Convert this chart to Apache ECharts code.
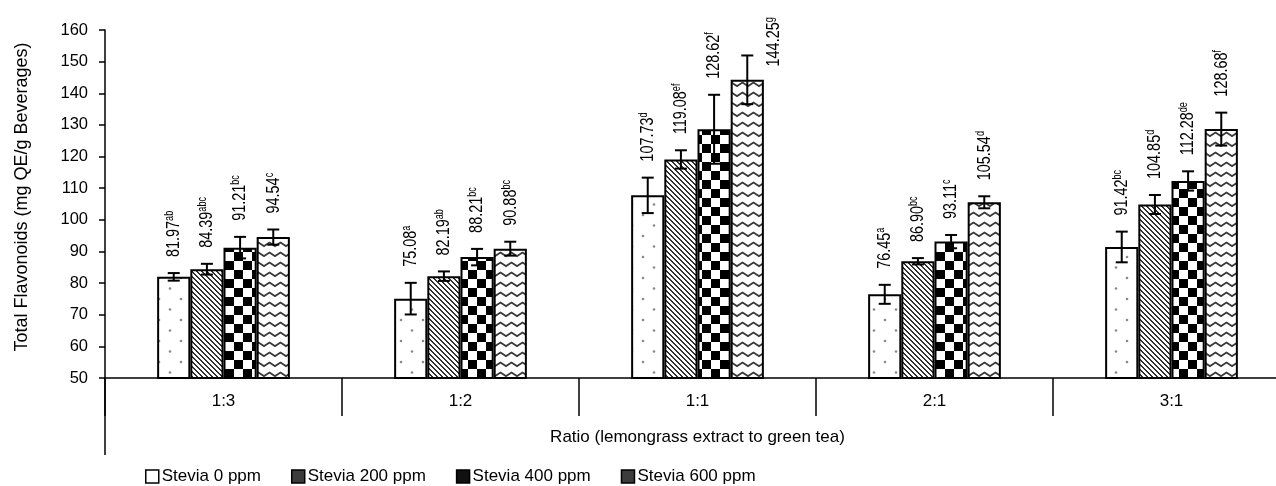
<!DOCTYPE html>
<html><head><meta charset="utf-8">
<script src="https://cdn.jsdelivr.net/npm/echarts@6/dist/echarts.min.js"></script>
<style>html,body{margin:0;padding:0;background:#fff}#c{width:1276px;height:486px}</style>
</head><body><div id="c"></div>
<script>
// ---------------- data ----------------
const categories = ['1:3', '1:2', '1:1', '2:1', '3:1'];
const seriesNames = ['Stevia 0 ppm', 'Stevia 200 ppm', 'Stevia 400 ppm', 'Stevia 600 ppm'];
const stevia0   = [81.97, 75.08, 107.73, 76.45, 91.42];
const stevia200 = [84.39, 82.19, 119.08, 86.90, 104.85];
const stevia400 = [91.21, 88.21, 128.62, 93.11, 112.28];
const stevia600 = [94.54, 90.88, 144.25, 105.54, 128.68];
const sd0   = [1.2, 5.0, 5.6, 3.0, 4.85];
const sd200 = [1.7, 1.5, 2.9, 1.0, 3.0];
const sd400 = [3.4, 2.6, 10.9, 2.1, 3.05];
const sd600 = [2.4, 2.2, 7.7, 1.9, 5.2];
const letters0   = ['ab', 'a', 'd', 'a', 'bc'];
const letters200 = ['abc', 'ab', 'ef', 'bc', 'd'];
const letters400 = ['bc', 'bc', 'f', 'c', 'de'];
const letters600 = ['c', 'bc', 'g', 'd', 'f'];
const yMin = 50, yMax = 160, yStep = 10;
const xTitle = 'Ratio (lemongrass extract to green tea)';
const yTitle = 'Total Flavonoids (mg QE/g Beverages)';

// ---------------- style ----------------
const FF = '"Liberation Sans", Arial, Helvetica, sans-serif';
const GRID_LEFT = 105, GRID_TOP = 30, GRID_BOTTOM = 108, CAT_W = 237;
const CAT_GAP = 0.44;

function makeCanvas(w, h, draw) {
  const c = document.createElement('canvas'); c.width = w; c.height = h;
  const ctx = c.getContext('2d'); ctx.fillStyle = '#fff'; ctx.fillRect(0, 0, w, h);
  draw(ctx); return c;
}
const patDots = makeCanvas(22, 21, ctx => {
  ctx.fillStyle = '#8a8a8a';
  [[5, 5], [16, 15.5]].forEach(p => { ctx.beginPath(); ctx.arc(p[0], p[1], 1.3, 0, Math.PI * 2); ctx.fill(); });
});
const patStripes = makeCanvas(5, 5, ctx => {
  const img = ctx.getImageData(0, 0, 5, 5);
  for (let y = 0; y < 5; y++) for (let x = 0; x < 5; x++) {
    const d = ((x - y) % 5 + 5) % 5;
    const i = (y * 5 + x) * 4;
    const v = d < 2 ? 50 : 255;
    img.data[i] = img.data[i + 1] = img.data[i + 2] = v; img.data[i + 3] = 255;
  }
  ctx.putImageData(img, 0, 0);
});
const patChecker = makeCanvas(18, 18, ctx => {
  ctx.fillStyle = '#000'; ctx.fillRect(0, 0, 9, 9); ctx.fillRect(9, 9, 9, 9);
});
const patZigzag = makeCanvas(11, 10, ctx => {
  ctx.strokeStyle = '#3a3a3a'; ctx.lineWidth = 1.8;
  ctx.beginPath(); ctx.moveTo(-0.5, 6.5); ctx.lineTo(5.5, 2.5); ctx.lineTo(11.5, 6.5); ctx.stroke();
});
const patterns = [patDots, patStripes, patChecker, patZigzag];
const legendFill = ['#ffffff', '#3c3c3c', '#111111', '#3c3c3c'];

const values = [stevia0, stevia200, stevia400, stevia600];
const sds = [sd0, sd200, sd400, sd600];
const letters = [letters0, letters200, letters400, letters600];

// flattened rows for error bars + labels: [catIndex, seriesIndex, value, sd]
const errRows = [];
const errLetters = [];
for (let c = 0; c < categories.length; c++) for (let s = 0; s < 4; s++) {
  errRows.push([c, s, values[s][c], sds[s][c]]);
  errLetters.push(letters[s][c]);
}

const measureCtx = document.createElement('canvas').getContext('2d');
function textLen(str, size) { measureCtx.font = size + 'px ' + FF; return measureCtx.measureText(str).width; }

// data labels: narrow-looking text (condensed along the reading direction)
const LBL = 19, SUP = 12, NARROW = 0.76, GAP_LBL = 16;

function renderErr(params, api) {
  const cat = api.value(0), s = api.value(1), v = api.value(2), sd = api.value(3);
  const band = api.size([1, 0])[0];
  const bw = band * (1 - CAT_GAP) / 4;
  const cx = api.coord([cat, v])[0] + (s - 1.5) * bw;
  const yTop = api.coord([cat, v + sd])[1];
  const yBot = api.coord([cat, v - sd])[1];
  const cap = 6;
  const ls = { stroke: '#000', lineWidth: 2 };
  const valStr = v.toFixed(2), sup = errLetters[params.dataIndex];
  const len = (textLen(valStr, LBL) + textLen(sup, SUP)) * NARROW;
  let lx = cx, ly = yTop - GAP_LBL;
  if (ly - len < 3) { lx = cx + bw * 0.8; ly = yTop + 11; }
  return {
    type: 'group',
    children: [
      { type: 'line', shape: { x1: cx, y1: yTop, x2: cx, y2: yBot }, style: ls },
      { type: 'line', shape: { x1: cx - cap, y1: yTop, x2: cx + cap, y2: yTop }, style: ls },
      { type: 'line', shape: { x1: cx - cap, y1: yBot, x2: cx + cap, y2: yBot }, style: ls },
      {
        type: 'text', x: lx, y: ly, rotation: Math.PI / 2, scaleX: NARROW, scaleY: 1,
        style: {
          text: '{v|' + valStr + '}{s|' + sup + '}',
          align: 'left', verticalAlign: 'middle',
          rich: {
            v: { fontSize: LBL, fontFamily: FF, fill: '#000', lineHeight: 20 },
            s: { fontSize: SUP, fontFamily: FF, fill: '#000', verticalAlign: 'top', lineHeight: 20 }
          }
        }
      }
    ]
  };
}

const barSeries = seriesNames.map((name, s) => ({
  name, type: 'bar', data: values[s],
  barGap: '0%', barCategoryGap: (CAT_GAP * 100) + '%',
  itemStyle: { color: { image: patterns[s], repeat: 'repeat' }, borderColor: '#000', borderWidth: 2 },
  emphasis: { disabled: true }, z: 2
}));

const chart = echarts.init(document.getElementById('c'), null, { renderer: 'canvas' });
chart.setOption({
  animation: false,
  backgroundColor: '#fff',
  textStyle: { fontFamily: FF },
  grid: {
    left: GRID_LEFT, top: GRID_TOP, bottom: GRID_BOTTOM, width: CAT_W * categories.length,
    containLabel: false, outerBoundsMode: 'none'
  },
  legend: {
    data: seriesNames.map((n, i) => ({ name: n, itemStyle: { color: legendFill[i], borderColor: '#000', borderWidth: 1.5 } })),
    left: 140, top: 463, itemWidth: 13, itemHeight: 13, itemGap: 30, icon: 'rect',
    textStyle: { fontFamily: FF, fontSize: 17, color: '#000', padding: [0, 0, 0, -2] }
  },
  xAxis: {
    type: 'category', data: categories,
    axisLine: { lineStyle: { color: '#000', width: 1.5 } },
    axisTick: { show: true, interval: 0, length: 38, lineStyle: { color: '#000', width: 1.5 } },
    axisLabel: { fontFamily: FF, fontSize: 17, color: '#000', margin: 15 },
    name: xTitle, nameLocation: 'middle', nameGap: 51,
    nameTextStyle: { fontFamily: FF, fontSize: 17, color: '#000' }
  },
  yAxis: {
    type: 'value', min: yMin, max: yMax, interval: yStep,
    axisLine: { show: true, lineStyle: { color: '#000', width: 1.5 } },
    axisTick: { show: true, length: 6, lineStyle: { color: '#000', width: 1.5 } },
    axisLabel: { fontFamily: FF, fontSize: 16.5, color: '#000', margin: 17 },
    splitLine: { show: false },
    name: yTitle, nameLocation: 'middle', nameGap: 74,
    nameTextStyle: { fontFamily: FF, fontSize: 18, color: '#000', padding: [0, 0, 0, 14] }
  },
  graphic: [{
    type: 'line', shape: { x1: GRID_LEFT, y1: 486 - GRID_BOTTOM, x2: GRID_LEFT, y2: 455 },
    style: { stroke: '#000', lineWidth: 1.5 }, z: 10
  }],
  series: barSeries.concat([{
    type: 'custom', name: 'err', renderItem: renderErr, data: errRows,
    encode: { x: 0, y: 2 }, z: 5, silent: true, clip: false
  }])
});
</script></body></html>
